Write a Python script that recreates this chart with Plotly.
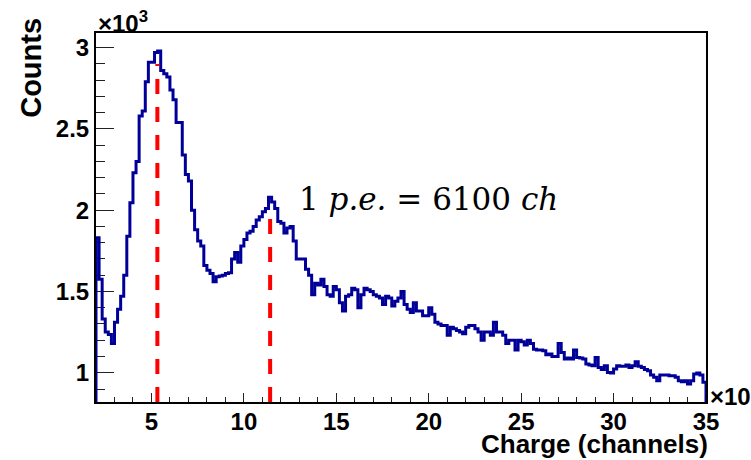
import plotly.graph_objects as go

# Charge spectrum, values in units of 10^3 (both axes)
X_MIN = 2.0           # first bin lower edge [10^3 ch]
BIN_WIDTH = 1.0 / 6   # bin width [10^3 ch]
Y_RANGE = [0.82, 3.09]

counts_k = [
    1.83, 1.575, 1.33, 1.25, 1.235, 1.18, 1.31, 1.39, 1.47, 1.60,
    1.84, 2.045, 2.23, 2.30, 2.58, 2.61, 2.79, 2.91, 2.91, 2.97,
    2.98, 2.86, 2.84, 2.82, 2.74, 2.68, 2.54, 2.54, 2.34, 2.22,
    2.18, 2.00, 1.88, 1.81, 1.78, 1.66, 1.63, 1.61, 1.56, 1.59,
    1.595, 1.60, 1.61, 1.615, 1.70, 1.74, 1.68, 1.78, 1.82, 1.86,
    1.87, 1.90, 1.94, 1.96, 1.99, 2.01, 2.08, 2.05, 2.01, 1.93,
    1.92, 1.86, 1.89, 1.90, 1.81, 1.70, 1.70, 1.70, 1.636, 1.60,
    1.48, 1.55, 1.54, 1.575, 1.53, 1.48, 1.47, 1.53, 1.51, 1.43,
    1.38, 1.47, 1.48, 1.52, 1.51, 1.40, 1.48, 1.52, 1.51, 1.50,
    1.48, 1.47, 1.46, 1.42, 1.47, 1.46, 1.41, 1.44, 1.46, 1.50,
    1.42, 1.39, 1.37, 1.43, 1.38, 1.38, 1.35, 1.35, 1.40, 1.36,
    1.31, 1.30, 1.29, 1.29, 1.23, 1.28, 1.27, 1.26, 1.25, 1.24,
    1.28, 1.29, 1.29, 1.27, 1.25, 1.20, 1.25, 1.25, 1.23, 1.31,
    1.25, 1.25, 1.23, 1.18, 1.20, 1.20, 1.14, 1.20, 1.19, 1.17,
    1.20, 1.18, 1.145, 1.14, 1.14, 1.135, 1.11, 1.115, 1.10, 1.10,
    1.18, 1.125, 1.084, 1.09, 1.084, 1.14, 1.094, 1.09, 1.084, 1.053,
    1.047, 1.043, 1.094, 1.033, 1.02, 1.043, 1.002, 0.998, 1.023, 1.043,
    1.04, 1.04, 1.047, 1.033, 1.043, 1.067, 1.04, 1.033, 1.02, 1.013,
    0.986, 0.972, 0.951, 0.986, 0.986, 0.986, 0.982, 0.982, 0.972, 0.951,
    0.945, 0.951, 0.931, 0.951, 0.992, 0.998, 0.986, 0.941,
]

# Peak markers: pedestal peak and single photo-electron peak
PEDESTAL_POS = 5.32
PE_GAIN = 6.1  # 1 p.e. = 6100 ch
PEAK_POS = [PEDESTAL_POS, PEDESTAL_POS + PE_GAIN]
PEAK_TOP = [2.90, 2.00]

x_ticks = [5, 10, 15, 20, 25, 30, 35]
y_ticks = [1.0, 1.5, 2.0, 2.5, 3.0]
y_tick_text = ["1", "1.5", "2", "2.5", "3"]

# Step outline, ROOT style: starts and ends on the lower axis edge
n_bins = len(counts_k)
edges = [X_MIN + i * BIN_WIDTH for i in range(n_bins + 1)]
xs = [edges[0]] + edges[:-1] + [edges[-1], edges[-1]]
ys = [Y_RANGE[0]] + counts_k + [counts_k[-1], Y_RANGE[0]]

fig = go.Figure()
fig.add_trace(go.Scatter(
    x=xs, y=ys, mode="lines", line=dict(shape="hv", color="#000099", width=3),
    hoverinfo="skip", showlegend=False,
))

for pos, top in zip(PEAK_POS, PEAK_TOP):
    fig.add_trace(go.Scatter(
        x=[pos, pos], y=[Y_RANGE[0], top], mode="lines",
        line=dict(color="#ff0000", width=4, dash="15px,13px"),
        hoverinfo="skip", showlegend=False,
    ))

SANS = "Liberation Sans, Arial, sans-serif"
label_font = dict(family=SANS, size=24, color="black", weight="bold")

fig.update_layout(
    width=751, height=460,
    margin=dict(l=96, r=45, t=33, b=58),
    paper_bgcolor="white", plot_bgcolor="white",
    xaxis=dict(
        range=[X_MIN, 35], tickmode="array", tickvals=x_ticks,
        ticktext=[str(v) for v in x_ticks],
        ticks="inside", ticklen=9, tickwidth=1, tickcolor="#222",
        minor=dict(dtick=1, tick0=0, ticks="inside", ticklen=5,
                   tickwidth=1, tickcolor="#222"),
        showline=True, linecolor="black", linewidth=2, mirror=True,
        showgrid=False, zeroline=False, tickfont=label_font,
        ticklabelstandoff=-3,
    ),
    yaxis=dict(
        range=Y_RANGE, tickmode="array", tickvals=y_ticks,
        ticktext=y_tick_text,
        ticks="inside", ticklen=18, tickwidth=1, tickcolor="#222",
        minor=dict(dtick=0.1, tick0=0, ticks="inside", ticklen=9,
                   tickwidth=1, tickcolor="#222"),
        showline=True, linecolor="black", linewidth=2, mirror=True,
        showgrid=False, zeroline=False, tickfont=label_font,
        layer="below traces",
    ),
    annotations=[
        dict(text="Counts", textangle=-90, xref="paper", yref="paper",
             x=-0.107, y=0.905, xanchor="center", yanchor="middle",
             showarrow=False,
             font=dict(family=SANS, size=29, color="black", weight="bold")),
        dict(text="Charge (channels)", xref="paper", yref="paper",
             x=1.006, y=-0.115, xanchor="right", yanchor="middle",
             showarrow=False,
             font=dict(family=SANS, size=26, color="black", weight="bold")),
        dict(text="×10<sup>3</sup>", xref="paper", yref="paper",
             x=0.0, y=0.984, xanchor="left", yanchor="bottom",
             showarrow=False, font=label_font),
        dict(text="×10<sup>3</sup>", xref="paper", yref="paper",
             x=1.004, y=0.018, xanchor="left", yanchor="middle",
             showarrow=False, font=label_font),
        dict(text="1 <i>p.e.</i> = 6100 <i>ch</i>", xref="x", yref="y",
             x=12.85, y=2.07, xanchor="left", yanchor="middle",
             showarrow=False,
             font=dict(family="DejaVu Serif, Liberation Serif, serif",
                       size=31, color="black")),
    ],
)

fig.write_html("out.html")
